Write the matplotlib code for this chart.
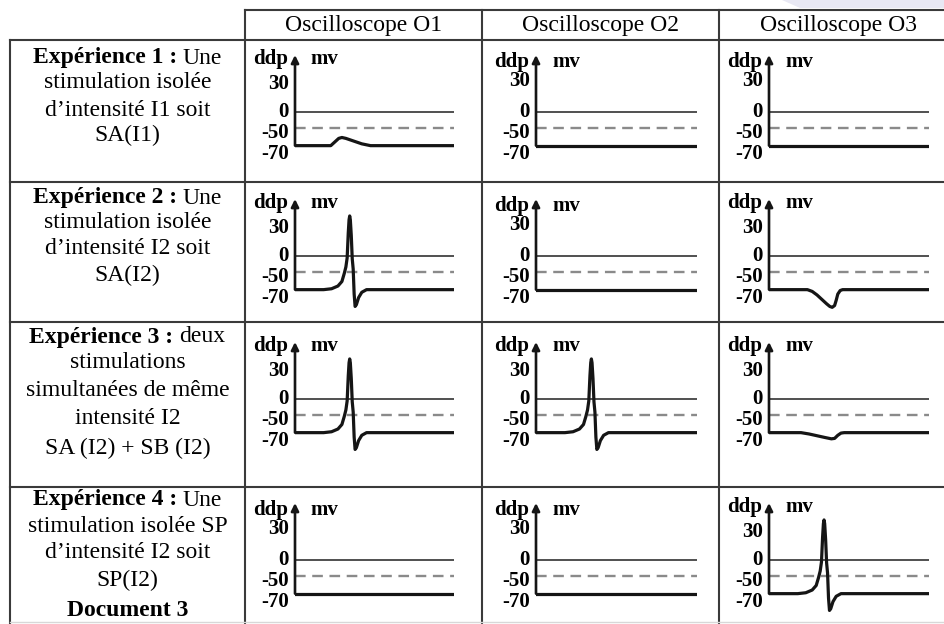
import numpy as np
import matplotlib
matplotlib.use('Agg')
import matplotlib.pyplot as plt
from matplotlib.patches import Polygon

W, H = 944, 624
SERIF = 'Liberation Serif'

# column headers
scopes = ['Oscilloscope O1', 'Oscilloscope O2', 'Oscilloscope O3']

# left column text, one list of (text, bold) pieces per line
experiments = [
    [[('Expérience 1 :', True), (' Une', False)],
     [('stimulation isolée', False)],
     [('d’intensité I1 soit', False)],
     [('SA(I1)', False)]],
    [[('Expérience 2 :', True), (' Une', False)],
     [('stimulation isolée', False)],
     [('d’intensité I2 soit', False)],
     [('SA(I2)', False)]],
    [[('Expérience 3 :', True), (' deux', False)],
     [('stimulations', False)],
     [('simultanées de même', False)],
     [('intensité I2', False)],
     [('SA (I2) + SB (I2)', False)]],
    [[('Expérience 4 :', True), (' Une', False)],
     [('stimulation isolée SP', False)],
     [('d’intensité I2 soit', False)],
     [('SP(I2)', False)],
     [('Document 3', True)]],
]

# axis labels of every oscilloscope (mV)
level_labels = ['30', '0', '-50', '-70']
level_values = [30, 0, -56, -79]

# traces: time (arbitrary, 0-10) and ddp (mV)
flat_t = [0, 10]
flat_v = [-70, -70]

epsp_t = [0, 2.25, 2.5, 2.75, 2.95, 3.2, 3.7, 4.2, 4.75, 10]
epsp_v = [-70, -70, -66, -62, -61, -62, -65, -68, -70, -70]

ap_t = [0, 1.8, 2.3, 2.7, 2.95, 3.1, 3.2, 3.28, 3.35, 3.40, 3.44, 3.48,
        3.54, 3.60, 3.66, 3.72, 3.78, 3.86, 4.0, 4.2, 4.5, 10]
ap_v = [-70, -70, -69, -66, -61, -52, -35, -5, 25, 39, 43, 39,
        22, -8, -42, -75, -89, -87, -79, -73, -70, -70]

ipsp_t = [0, 2.4, 2.7, 3.0, 3.3, 3.6, 3.8, 3.95, 4.1, 4.2, 4.3, 4.45, 4.6, 10]
ipsp_v = [-70, -70, -72, -76, -81, -86, -89, -90, -88, -82, -75, -71, -70, -70]

ipsp_small_t = [0, 2.0, 2.5, 3.0, 3.5, 3.9, 4.1, 4.3, 4.5, 4.7, 10]
ipsp_small_v = [-70, -70, -71.5, -73.5, -75.5, -77, -76.5, -73, -70.5, -70, -70]

traces = {
    'flat': (flat_t, flat_v),
    'epsp': (epsp_t, epsp_v),
    'ap': (ap_t, ap_v),
    'ipsp': (ipsp_t, ipsp_v),
    'ipsp_small': (ipsp_small_t, ipsp_small_v),
}

# which trace is seen on which oscilloscope for each experiment
cell_traces = [
    ['epsp', 'flat', 'flat'],
    ['ap', 'flat', 'ipsp'],
    ['ap', 'ap', 'ipsp_small'],
    ['flat', 'flat', 'ap'],
]

# layout (pixels)
col_left = [245, 482, 719]
axis_off = [50, 54, 50]
line_end = [454, 697, 929]
row_top = [40, 182, 322, 487]
zero_y = [112, 256, 399, 560]
text_y = [[58, 83, 110, 135], [198, 223, 248, 275],
          [337, 363, 391, 419, 448], [500, 527, 553, 580, 611]]
# cells where "ddp" sits lower, right on top of "30"
compact = [[False, True, True],
           [False, True, False],
           [False, False, False],
           [True, True, False]]

# schematic (non linear) vertical scale of the drawings: mV -> pixels
mv_pts = [-200, -70, -50, 0, 30, 200]
px_pts = [-147, -33, -15, 0, 28, 186.7]


def fwd(v):
    return np.interp(v, mv_pts, px_pts)


def inv(p):
    return np.interp(p, px_pts, mv_pts)


fig = plt.figure(figsize=(W / 100, H / 100), dpi=100)
bg = fig.add_axes([0, 0, 1, 1])
bg.set_xlim(0, W)
bg.set_ylim(H, 0)
bg.axis('off')

# light shape at top right corner
bg.add_patch(Polygon([(782, 0), (944, 0), (944, 8), (800, 8)], closed=True,
                     color='#e8e8f3', lw=0))

# table grid
gc = '#3a3a3a'
glw = 1.5
bg.plot([245, 944], [10, 10], color=gc, lw=glw)
for y in row_top:
    bg.plot([10, 944], [y, y], color=gc, lw=glw)
bg.plot([10, 10], [40, 624], color=gc, lw=glw)
for x in col_left:
    bg.plot([x, x], [10, 624], color=gc, lw=glw)
bg.plot([10, 944], [622, 622], color='#d8d8d8', lw=1)

# header
for i, name in enumerate(scopes):
    right = col_left[i + 1] if i + 1 < len(col_left) else 957
    bg.text((col_left[i] + right) / 2, 25, name, ha='center', va='center',
            family=SERIF, fontsize=17)

# left column text, mixed bold / regular, centred
fig.canvas.draw()
rend = fig.canvas.get_renderer()
fs_left = 17


def width_of(s, bold):
    t = bg.text(0, 0, s, family=SERIF, fontsize=fs_left,
                weight='bold' if bold else 'normal')
    w = t.get_window_extent(rend).width
    t.remove()
    return w


space_w = width_of('a a', False) - width_of('aa', False)
cx = (10 + 245) / 2
for r, lines in enumerate(experiments):
    for k, pieces in enumerate(lines):
        widths = []
        for s, b in pieces:
            lead = len(s) - len(s.lstrip(' '))
            widths.append(lead * space_w + width_of(s.lstrip(' '), b))
        x = cx - sum(widths) / 2
        for (s, b), w in zip(pieces, widths):
            lead = len(s) - len(s.lstrip(' '))
            bg.text(x + lead * space_w, text_y[r][k], s.lstrip(' '),
                    ha='left', va='center', family=SERIF, fontsize=fs_left,
                    weight='bold' if b else 'normal')
            x += w

# oscilloscope drawings
fs_lab = 15
for r in range(4):
    for c in range(3):
        x0 = col_left[c] + axis_off[c]
        x1 = line_end[c]
        ytop = zero_y[r] - 57
        ybot = zero_y[r] + 69
        ax = fig.add_axes([x0 / W, 1 - ybot / H, (x1 - x0) / W, (ybot - ytop) / H])
        ax.set_yscale('function', functions=(fwd, inv))
        ax.set_xlim(0, 10)
        ax.set_ylim(-110, 61)
        ax.axis('off')

        ax.axhline(0, color='#505050', lw=1.4)
        ax.axhline(-50, color='#8a8a8a', lw=1.7, dashes=(4.5, 2.8))
        t, v = traces[cell_traces[r][c]]
        ax.plot(t, v, color='#151515', lw=2.3, solid_joinstyle='round')
        ax.annotate('', xy=(0, 61), xytext=(0, -70),
                    arrowprops=dict(arrowstyle='-|>', lw=1.9, color='#151515',
                                    mutation_scale=11, shrinkA=0, shrinkB=0))

        if compact[r][c]:
            top_y, v30 = 54, 33
        else:
            top_y, v30 = 57, 30
        ax.text(-0.45, top_y, 'ddp', ha='right', va='center', family=SERIF,
                fontsize=fs_lab, weight='bold', clip_on=False)
        ax.text(1.0, top_y, 'mv', ha='left', va='center', family=SERIF,
                fontsize=fs_lab, weight='bold', clip_on=False)
        for lab, val in zip(level_labels, level_values):
            yv = v30 if lab == '30' else val
            ax.text(-0.4, yv, lab, ha='right', va='center', family=SERIF,
                    fontsize=fs_lab, weight='bold', clip_on=False)

fig.savefig('out.png', dpi=100)
